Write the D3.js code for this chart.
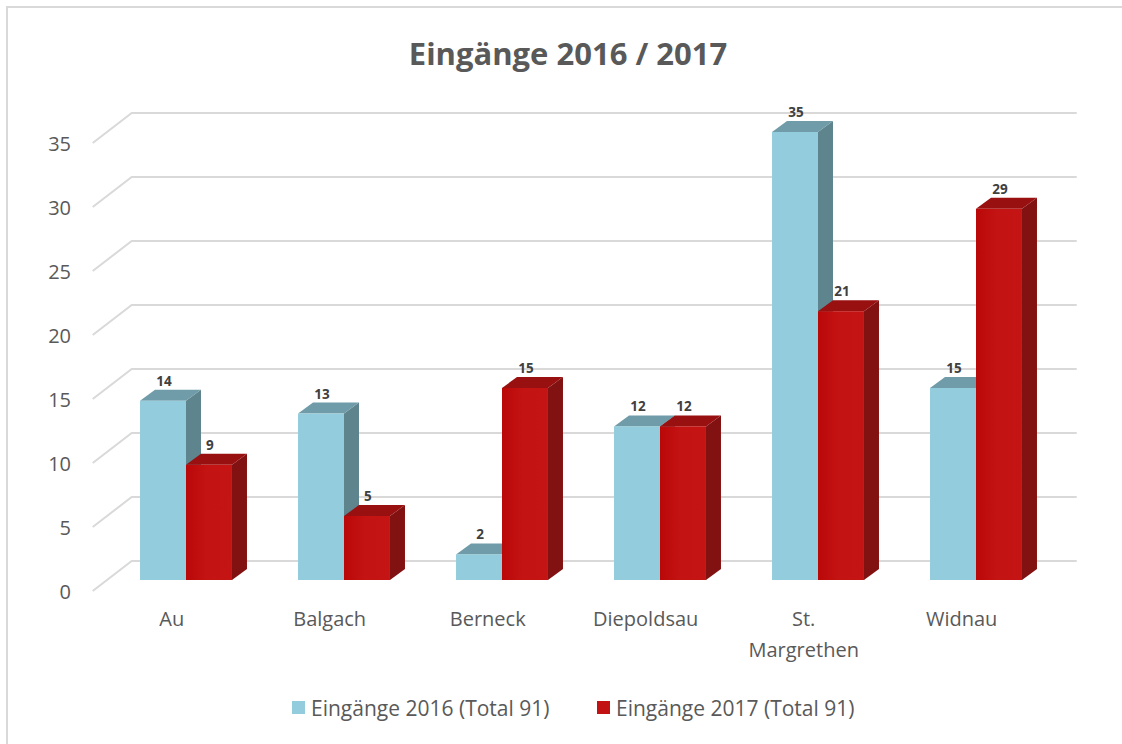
<!DOCTYPE html>
<html>
<head>
<meta charset="utf-8">
<script src="https://cdn.jsdelivr.net/npm/d3@7"></script>
<style>
  body { margin: 0; background: #fff; }
  svg text { font-family: "Open Sans", sans-serif; }
</style>
</head>
<body>
<svg id="chart" width="1122" height="744"></svg>
<script>
// data
const categories = ["Au", "Balgach", "Berneck", "Diepoldsau", "St. Margrethen", "Widnau"];
const seriesNames = ["Eingänge 2016 (Total 91)", "Eingänge 2017 (Total 91)"];
const values2016 = [14, 13, 2, 12, 35, 15];
const values2017 = [9, 5, 15, 12, 21, 29];
const yTicks = [0, 5, 10, 15, 20, 25, 30, 35];

const colors = [
  { front: "#93CDDD", top: "#6F9CA8", side: "#5E848E" },
  { front: "#C21212", top: "#981010", side: "#821111" }
];

const svg = d3.select("#chart");

// frame (only left + top visible)
svg.append("path")
  .attr("d", "M7,744 L7,7 L1122,7")
  .attr("fill", "none")
  .attr("stroke", "#D9D9D9")
  .attr("stroke-width", 2);

// title
svg.append("text")
  .attr("x", 568).attr("y", 65)
  .attr("text-anchor", "middle")
  .attr("font-size", 31).attr("font-weight", "bold")
  .attr("fill", "#595959")
  .text("Eingänge 2016 / 2017");

// scales in the bar plane
const x0 = d3.scaleBand().domain(categories).range([107, 1055])
  .paddingInner(0.418).paddingOuter(0.209);
const x1 = d3.scaleBand().domain([0, 1]).range([0, x0.bandwidth()]);
const y = d3.scaleLinear().domain([0, 35]).range([580, 132]);

// depth vectors
const toFront = { dx: -14.3, dy: 11 };
const toBack = { dx: 24.7, dy: -19 };
const barDepth = { dx: 15, dy: -11 };

// gridlines
const gGrid = svg.append("g");
yTicks.forEach(t => {
  const yb = y(t);
  const fx = x0.range()[0] + toFront.dx, fy = yb + toFront.dy;
  const bx = x0.range()[0] + toBack.dx, by = yb + toBack.dy;
  const ex = x0.range()[1] + toBack.dx - 3;
  gGrid.append("path")
    .attr("d", `M${fx},${fy} L${bx},${by} L${ex},${by}`)
    .attr("fill", "none")
    .attr("stroke", "#D9D9D9")
    .attr("stroke-width", 2);
  gGrid.append("text")
    .attr("x", 71).attr("y", fy)
    .attr("text-anchor", "end")
    .attr("dominant-baseline", "central")
    .attr("font-size", 20)
    .attr("fill", "#595959")
    .text(t);
});

// category labels
categories.forEach(c => {
  const cx = x0(c) + x0.bandwidth() / 2 + toFront.dx;
  const words = c === "St. Margrethen" ? ["St.", "Margrethen"] : [c];
  const txt = svg.append("text")
    .attr("x", cx).attr("y", 626)
    .attr("text-anchor", "middle")
    .attr("font-size", 20)
    .attr("fill", "#595959");
  words.forEach((w, i) => {
    txt.append("tspan").attr("x", cx).attr("dy", i === 0 ? 0 : 31).text(w);
  });
});

// gradient for the red front faces (slightly darker on the left)
const defs = svg.append("defs");
const grad = defs.append("linearGradient").attr("id", "redFront")
  .attr("x1", "0%").attr("x2", "100%");
grad.append("stop").attr("offset", "0%").attr("stop-color", "#BA0808");
grad.append("stop").attr("offset", "45%").attr("stop-color", "#C41313");
grad.append("stop").attr("offset", "100%").attr("stop-color", "#C51414");

// bars
const seriesVals = [values2016, values2017];
const gBars = svg.append("g");
categories.forEach((c, ci) => {
  [0, 1].forEach(si => {
    const v = seriesVals[si][ci];
    const xl = x0(c) + x1(si), xr = xl + x1.bandwidth();
    const yt = y(v), yb = y(0);
    const col = colors[si];
    const dx = barDepth.dx, dy = barDepth.dy;
    // side
    gBars.append("path")
      .attr("d", `M${xr},${yb} L${xr + dx},${yb + dy} L${xr + dx},${yt + dy} L${xr},${yt} Z`)
      .attr("fill", col.side);
    // top
    gBars.append("path")
      .attr("d", `M${xl},${yt} L${xl + dx},${yt + dy} L${xr + dx},${yt + dy} L${xr},${yt} Z`)
      .attr("fill", col.top);
    // front
    gBars.append("rect")
      .attr("x", xl).attr("y", yt)
      .attr("width", xr - xl).attr("height", yb - yt)
      .attr("fill", si === 1 ? "url(#redFront)" : col.front);
    // value label
    svg.append("text")
      .attr("x", (xl + xr) / 2 + 1).attr("y", yt + dy - 4)
      .attr("text-anchor", "middle")
      .attr("font-size", 13.5).attr("font-weight", "bold")
      .attr("fill", "#404040")
      .text(v);
  });
});

// legend
const legendX = [292, 597];
seriesNames.forEach((s, i) => {
  svg.append("rect")
    .attr("x", legendX[i]).attr("y", 701)
    .attr("width", 13).attr("height", 13)
    .attr("fill", colors[i].front);
  svg.append("text")
    .attr("x", legendX[i] + 19).attr("y", 708)
    .attr("dominant-baseline", "central")
    .attr("font-size", 21)
    .attr("fill", "#595959")
    .text(s);
});
</script>
</body>
</html>
